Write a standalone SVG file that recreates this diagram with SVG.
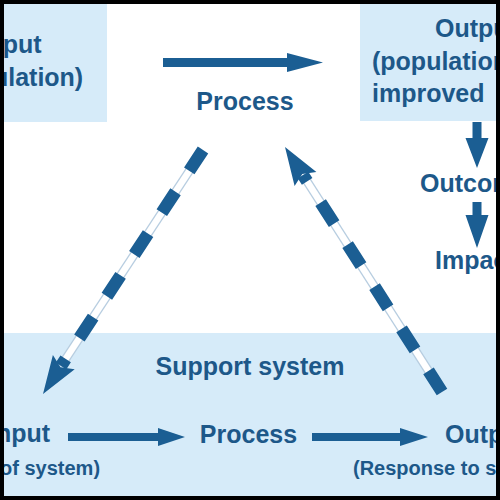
<svg xmlns="http://www.w3.org/2000/svg" width="500" height="500" viewBox="0 0 500 500">
<defs>
<style>
.bg{fill:#d6ebf9}
.t{font-family:"Liberation Sans",Arial,sans-serif;font-weight:bold;fill:#1d5889}
.big{font-size:25px}
.sm{font-size:20px}
.ar{fill:#1b5e93}
.edge{stroke:#b7cde0;stroke-width:9;fill:none}
.core{stroke:#ffffff;stroke-width:6.5;fill:none}
.dash{stroke:#1b5e93;stroke-width:12.5;fill:none;stroke-dasharray:25 25}
</style>
</defs>
<rect width="500" height="500" fill="#ffffff"/>
<g id="node-input-top">
<rect class="bg" x="0" y="0" width="107" height="122"/>
<text class="t big" x="11" y="53" text-anchor="middle">Input</text>
<text class="t big" x="11" y="86" text-anchor="middle">(population)</text>
</g>
<g id="node-process-top">
<text class="t big" x="245" y="110" text-anchor="middle">Process</text>
</g>
<g id="node-output-top">
<rect class="bg" x="360" y="0" width="140" height="121"/>
<text class="t big" x="435" y="37">Output</text>
<text class="t big" x="372" y="70">(population</text>
<text class="t big" x="372" y="102">improved</text>
</g>
<g id="node-outcome">
<text class="t big" x="420" y="192">Outcome</text>
</g>
<g id="node-impact">
<text class="t big" x="435" y="269">Impact</text>
</g>
<g id="node-support">
<rect class="bg" x="0" y="333" width="500" height="167"/>
<text class="t big" x="250" y="375" text-anchor="middle">Support system</text>
</g>
<g id="node-input-bottom">
<text class="t big" x="19.5" y="442" text-anchor="middle">Input</text>
<text class="t sm" x="19.5" y="475" text-anchor="middle">(Input of system)</text>
</g>
<g id="node-process-bottom">
<text class="t big" x="248.5" y="443" text-anchor="middle">Process</text>
</g>
<g id="node-output-bottom">
<text class="t big" x="445" y="443">Output</text>
<text class="t sm" x="353" y="475">(Response to system)</text>
</g>
<g id="connectors">
<polygon class="ar" points="163,58 287,58 287,53 323,62.5 287,72 287,67 163,67"/>
<polygon class="ar" points="472.5,122 481.5,122 481.5,138 488.5,138 477,168 465.5,138 472.5,138"/>
<polygon class="ar" points="472.5,202 481.5,202 481.5,215 488.5,215 477,248 465.5,215 472.5,215"/>
<polygon class="ar" points="68,433 158,433 158,428 185,437 158,446 158,441 68,441"/>
<polygon class="ar" points="312,433 400,433 400,428 428,437 400,446 400,441 312,441"/>
<g id="dash-left">
<path class="edge" d="M203,150 L61,366"/>
<path class="core" d="M203,150 L61,366"/>
<path class="dash" d="M203,150 L61,366"/>
<polygon class="ar" points="43,394 52.9,355.1 60.5,367.2 74.7,369.3"/>
</g>
<g id="dash-right">
<path class="edge" d="M442,392 L303,175"/>
<path class="core" d="M442,392 L303,175"/>
<path class="dash" d="M442,392 L303,175"/>
<polygon class="ar" points="285,147 316.4,172 302.3,173.9 294.6,186"/>
</g>
</g>
<rect x="2" y="2" width="496" height="496" fill="none" stroke="#000" stroke-width="4"/>
</svg>
